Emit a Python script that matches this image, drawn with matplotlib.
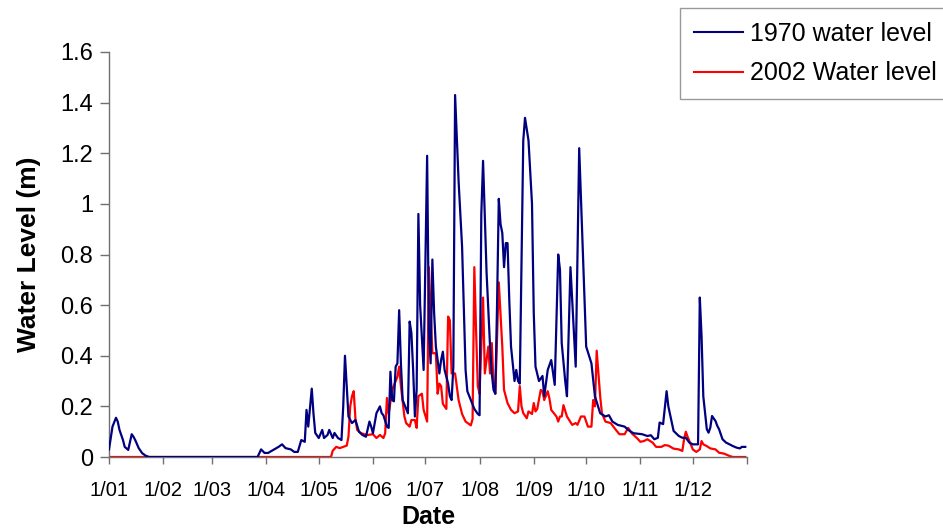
import matplotlib
matplotlib.use("Agg")
import matplotlib.pyplot as plt
from matplotlib.ticker import FuncFormatter

plt.rcParams['font.family'] = ['Liberation Sans', 'DejaVu Sans']

# ---- data (day of year, water level in m) ----
days_1970 = [0, 2, 4, 5, 6, 8, 9, 11, 12, 13, 14, 15, 17, 19, 21, 23, 85, 87, 89, 91, 94, 97, 99,
             101, 104, 106, 108, 110, 112, 113, 114, 116, 117, 118, 120, 122, 123, 125, 126, 128,
             129, 131, 133, 134, 135, 136, 137, 139, 141, 143, 145, 147, 149, 150, 151, 153, 155,
             156, 157, 159, 160, 161, 162, 163, 164, 165, 166, 167, 168, 170, 171, 172, 173, 174,
             175, 176, 177, 178, 180, 182, 183, 184, 185, 186, 187, 189, 190, 191, 192, 194, 195,
             196, 197, 198, 200, 202, 204, 205, 207, 209, 211, 212, 213, 214, 216, 218, 219, 220,
             221, 222, 223, 224, 225, 226, 227, 228, 229, 230, 232, 233, 234, 235, 236, 237, 238,
             240, 242, 243, 244, 246, 248, 249, 251, 253, 255, 257, 258, 259, 261, 262, 264, 267,
             269, 271, 273, 276, 278, 281, 284, 286, 288, 291, 295, 297, 300, 305, 308, 310, 312,
             314, 315, 317, 319, 320, 322, 323, 326, 328, 330, 332, 334, 337, 338, 339, 340, 342,
             343, 344, 345, 347, 348, 349, 351, 353, 355, 357, 359, 361, 362, 364]
level_1970 = [0.03, 0.12, 0.155, 0.14, 0.107, 0.067, 0.04, 0.028, 0.06, 0.09, 0.08, 0.067, 0.035,
              0.015, 0.005, 0.0, 0.0, 0.03, 0.016, 0.016, 0.028, 0.04, 0.05, 0.035, 0.03, 0.02,
              0.02, 0.067, 0.06, 0.186, 0.12, 0.27, 0.17, 0.095, 0.075, 0.107, 0.075, 0.087,
              0.107, 0.075, 0.095, 0.075, 0.067, 0.2, 0.4, 0.28, 0.16, 0.134, 0.146, 0.1, 0.087,
              0.08, 0.14, 0.12, 0.094, 0.173, 0.2, 0.173, 0.165, 0.12, 0.115, 0.337, 0.225,
              0.22, 0.357, 0.37, 0.58, 0.37, 0.225, 0.19, 0.173, 0.535, 0.49, 0.344, 0.16, 0.265,
              0.96, 0.6, 0.344, 1.19, 0.5, 0.37, 0.78, 0.57, 0.436, 0.33, 0.383, 0.416, 0.344,
              0.29, 0.24, 0.225, 0.357, 1.43, 1.09, 0.83, 0.344, 0.26, 0.225, 0.19, 0.17, 0.165,
              0.96, 1.17, 0.73, 0.436, 0.33, 0.265, 0.25, 0.6, 1.02, 0.92, 0.885, 0.75, 0.845,
              0.845, 0.62, 0.436, 0.3, 0.344, 0.3, 0.29, 0.78, 1.25, 1.34, 1.25, 1.0, 0.57,
              0.357, 0.3, 0.32, 0.24, 0.344, 0.383, 0.285, 0.8, 0.74, 0.45, 0.3, 0.24, 0.75,
              0.357, 1.22, 0.83, 0.436, 0.37, 0.24, 0.173, 0.16, 0.165, 0.14, 0.127, 0.12, 0.107,
              0.094, 0.09, 0.083, 0.086, 0.07, 0.076, 0.136, 0.13, 0.26, 0.2, 0.136, 0.103,
              0.083, 0.076, 0.076, 0.057, 0.05, 0.05, 0.63, 0.478, 0.24, 0.11, 0.096, 0.116,
              0.162, 0.142, 0.123, 0.11, 0.07, 0.057, 0.05, 0.043, 0.037, 0.034, 0.04, 0.04]

days_2002 = [0, 127, 128, 130, 132, 134, 136, 137, 138, 139, 140, 141, 142, 144, 146, 148, 151,
             153, 155, 157, 158, 159, 160, 162, 164, 165, 166, 167, 169, 170, 172, 173, 175, 176,
             177, 179, 180, 182, 183, 184, 185, 187, 188, 189, 190, 191, 193, 194, 195, 196, 198,
             200, 202, 204, 206, 207, 208, 209, 210, 211, 212, 214, 215, 217, 218, 219, 220, 221,
             223, 225, 226, 228, 230, 232, 234, 235, 236, 237, 239, 240, 242, 243, 244, 245, 247,
             248, 249, 251, 252, 253, 256, 257, 258, 259, 260, 262, 265, 267, 268, 270, 272, 274,
             276, 277, 278, 279, 281, 282, 284, 287, 290, 292, 295, 297, 299, 302, 304, 306, 308,
             311, 313, 316, 318, 320, 323, 326, 328, 329, 330, 331, 332, 334, 336, 338, 339, 340,
             342, 344, 347, 349, 352, 355, 357, 364]
level_2002 = [0.0, 0.0, 0.025, 0.04, 0.035, 0.04, 0.045, 0.08, 0.2, 0.24, 0.26, 0.15, 0.107,
              0.095, 0.09, 0.087, 0.09, 0.075, 0.087, 0.075, 0.094, 0.233, 0.17, 0.265, 0.3,
              0.317, 0.357, 0.28, 0.16, 0.134, 0.12, 0.146, 0.146, 0.115, 0.24, 0.25, 0.186,
              0.14, 0.75, 0.57, 0.41, 0.41, 0.25, 0.29, 0.28, 0.21, 0.19, 0.555, 0.54, 0.33,
              0.33, 0.225, 0.17, 0.14, 0.13, 0.125, 0.15, 0.75, 0.5, 0.28, 0.25, 0.63, 0.33,
              0.436, 0.33, 0.45, 0.28, 0.25, 0.69, 0.436, 0.265, 0.213, 0.186, 0.173, 0.18, 0.28,
              0.2, 0.173, 0.153, 0.18, 0.17, 0.213, 0.18, 0.19, 0.265, 0.26, 0.225, 0.26, 0.23,
              0.186, 0.16, 0.14, 0.16, 0.16, 0.205, 0.16, 0.127, 0.134, 0.127, 0.16, 0.16, 0.12,
              0.12, 0.225, 0.2, 0.42, 0.24, 0.173, 0.14, 0.134, 0.107, 0.09, 0.09, 0.115, 0.094,
              0.075, 0.06, 0.063, 0.07, 0.057, 0.04, 0.04, 0.047, 0.045, 0.033, 0.03, 0.024,
              0.07, 0.1, 0.08, 0.063, 0.03, 0.02, 0.03, 0.063, 0.05, 0.043, 0.034, 0.03, 0.017,
              0.013, 0.004, 0.0, 0.0]

month_starts = [0, 31, 59, 90, 120, 151, 181, 212, 243, 273, 304, 334]
month_labels = ['1/01', '1/02', '1/03', '1/04', '1/05', '1/06',
                '1/07', '1/08', '1/09', '1/10', '1/11', '1/12']
y_ticks = [0, 0.2, 0.4, 0.6, 0.8, 1.0, 1.2, 1.4, 1.6]

# ---- figure ----
W, H = 943, 529
fig = plt.figure(figsize=(W / 100, H / 100), dpi=100)
ax = fig.add_axes([109 / W, (H - 457) / H, (747 - 109) / W, (457 - 52) / H])

ax.plot(days_1970, level_1970, color='#000080', lw=1.6, label='1970 water level', zorder=3)
ax.plot(days_2002, level_2002, color='#FF0000', lw=1.6, label='2002 Water level', zorder=2)

ax.set_xlim(0, 365)
ax.set_ylim(0, 1.6)
ax.set_xticks(month_starts + [365])
ax.set_xticklabels(month_labels + [''])
ax.set_yticks(y_ticks)
ax.yaxis.set_major_formatter(FuncFormatter(lambda v, p: f'{v:g}'))

for s in ['top', 'right']:
    ax.spines[s].set_visible(False)
for s in ['left', 'bottom']:
    ax.spines[s].set_color('#707070')
    ax.spines[s].set_linewidth(1.0)
ax.tick_params(axis='y', direction='out', length=6.5, width=1.0, color='#707070',
               labelsize=17, pad=5)
ax.tick_params(axis='x', direction='out', length=5, width=1.0, color='#707070',
               labelsize=14.5, pad=12)

ax.set_xlabel('Date', fontsize=18, fontweight='bold', labelpad=4)
ax.set_ylabel('Water Level (m)', fontsize=19, fontweight='bold', labelpad=14)

leg = fig.legend(loc='upper left',
                 bbox_to_anchor=(680 / W, (H - 97) / H, 285 / W, 89 / H),
                 mode='expand', borderaxespad=0, fontsize=18, frameon=True,
                 fancybox=False, handlelength=1.95, handletextpad=0.3,
                 labelspacing=0.62, borderpad=0.55)
leg.get_frame().set_edgecolor('#808080')
leg.get_frame().set_linewidth(1.0)
for l in leg.get_lines():
    l.set_linewidth(1.5)

fig.savefig('out.png', dpi=100)
